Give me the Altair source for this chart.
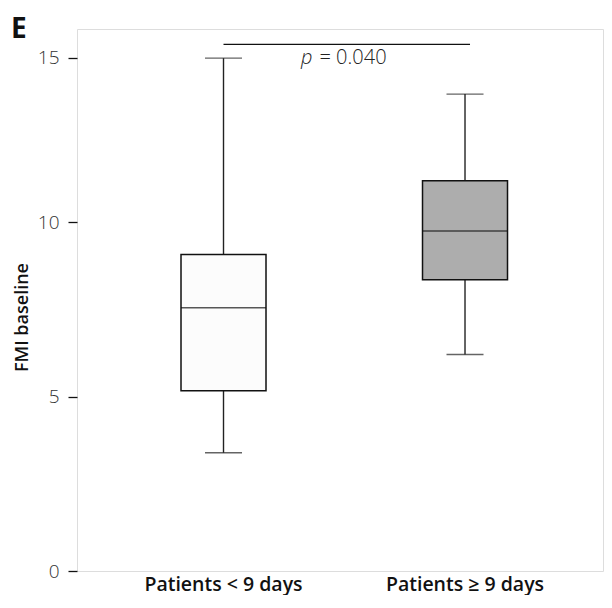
import altair as alt
import pandas as pd

groups = ["Patients < 9 days", "Patients \u2265 9 days"]
lower = [3.39, 6.21]
q1 = [5.17, 8.35]
median = [7.55, 9.75]
q3 = [9.08, 11.26]
upper = [14.98, 13.89]
fills = ["#fcfcfc", "#adadad"]

sig_y = [15.37]
p_y = [15.0]

df = pd.DataFrame({"group": groups, "lower": lower, "q1": q1, "median": median,
                   "q3": q3, "upper": upper, "fill": fills})

FONT = "Open Sans"

xenc = alt.X("group:N", sort=groups,
             scale=alt.Scale(domain=groups, paddingInner=0.5, paddingOuter=0.339, align=0.526),
             axis=alt.Axis(title=None, labelAngle=0, tickSize=0, domain=False,
                           labelFont=FONT, labelFontSize=19.5, labelFontWeight=600,
                           labelColor="#111", labelPadding=4))
yscale = alt.Scale(domain=[0, 10, 15, 15.8], range=[542, 193.3, 28.5, 0], nice=False, zero=False)
yaxis = alt.Axis(title="FMI baseline", values=[0, 5, 10, 15], grid=False, domain=False,
                 tickSize=9, tickColor="#111", tickWidth=1.3,
                 labelFont=FONT, labelFontSize=19, labelFontWeight=300, labelColor="#333",
                 labelPadding=9,
                 titleFont=FONT, titleFontSize=18, titleFontWeight=600, titleColor="#111",
                 titleAngle=-90, titleX=-50, titleY=288, titleAlign="center",
                 titleBaseline="alphabetic")

base = alt.Chart(df)

whisk_lo = base.mark_rule(color="#222", strokeWidth=1.4).encode(
    x=xenc, y=alt.Y("lower:Q", scale=yscale, axis=yaxis), y2="q1:Q")
whisk_hi = base.mark_rule(color="#222", strokeWidth=1.4).encode(
    x=alt.X("group:N", sort=groups), y=alt.Y("q3:Q"), y2="upper:Q")
cap_lo = base.mark_tick(color="#222", size=37, thickness=1.4).encode(
    x=alt.X("group:N", sort=groups), y="lower:Q")
cap_hi = base.mark_tick(color="#222", size=37, thickness=1.4).encode(
    x=alt.X("group:N", sort=groups), y="upper:Q")
box = base.mark_bar(size=85, stroke="#111", strokeWidth=1.5).encode(
    x=alt.X("group:N", sort=groups), y="q1:Q", y2="q3:Q",
    fill=alt.Fill("fill:N", scale=None))
med = base.mark_tick(color="#111", size=85, thickness=1.5).encode(
    x=alt.X("group:N", sort=groups), y="median:Q")

sig_df = pd.DataFrame({"a": [groups[0]], "b": [groups[1]], "y": sig_y})
sig = alt.Chart(sig_df).mark_rule(color="#111", strokeWidth=1.3, x2Offset=5).encode(
    x=alt.X("a:N", sort=groups), x2="b:N", y="y:Q")

p_df = pd.DataFrame({"g": [groups[0]], "y": p_y})
p_it = alt.Chart(p_df).mark_text(text="p", font=FONT, fontSize=20, fontStyle="italic",
                                 fontWeight=300, align="right", baseline="middle",
                                 dx=89, color="#222").encode(
    x=alt.X("g:N", sort=groups), y="y:Q")
p_val = alt.Chart(p_df).mark_text(text="= 0.040", font=FONT, fontSize=20, fontWeight=300,
                                  align="left", baseline="middle", dx=96, color="#222").encode(
    x=alt.X("g:N", sort=groups), y="y:Q")

label = alt.Chart(pd.DataFrame({"t": ["E"]})).mark_text(
    font=FONT, fontSize=28, fontWeight="bold", align="left", baseline="alphabetic",
    color="#111").encode(text="t:N", x=alt.value(-66), y=alt.value(9))

chart = alt.layer(whisk_lo, whisk_hi, cap_lo, cap_hi, box, med, sig, p_it, p_val, label).properties(
    width=526, height=542,
    autosize=alt.AutoSizeParams(type="none"),
    padding={"left": 69, "top": 21, "right": 1, "bottom": 24},
).configure_view(stroke="#111", strokeWidth=1.5).configure(background="white")

chart.save("out.html", embed_options={"renderer": "svg", "actions": False})
